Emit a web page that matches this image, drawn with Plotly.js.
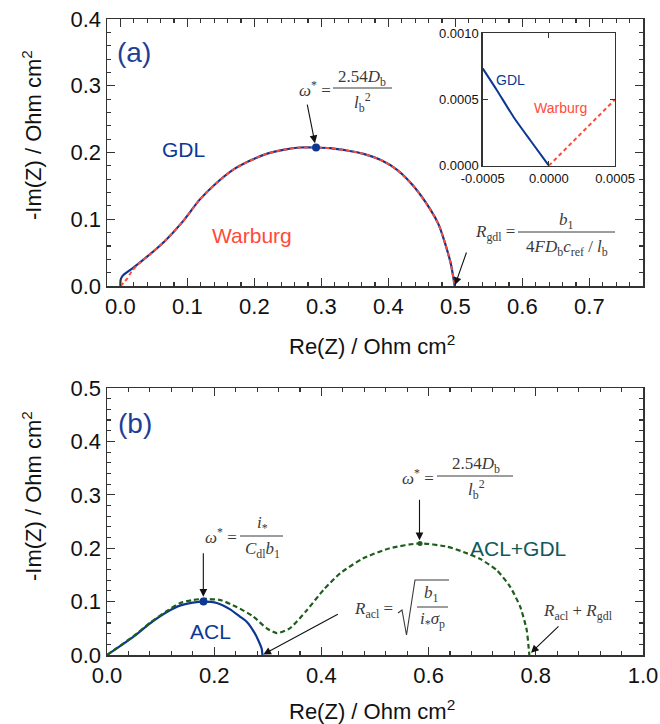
<!DOCTYPE html>
<html>
<head>
<meta charset="utf-8">
<script src="https://cdn.plot.ly/plotly-3.0.1.min.js"></script>
<style>html,body{margin:0;padding:0;background:#fff;}#plot{width:660px;height:724px;}</style>
</head>
<body>
<div id="plot"></div>
<script>
// ---------- data: panel (a) ----------
const gdlA_x = [0, 0.0003, 0.0035, 0.011, 0.018, 0.043, 0.068, 0.093, 0.118, 0.143, 0.168, 0.193, 0.218, 0.243, 0.268, 0.292, 0.313, 0.338, 0.363, 0.388, 0.413, 0.438, 0.463, 0.475, 0.483, 0.493, 0.499];
const gdlA_y = [0, 0.009, 0.0155, 0.0215, 0.0265, 0.0465, 0.069, 0.0965, 0.129, 0.154, 0.174, 0.1875, 0.198, 0.204, 0.2075, 0.2075, 0.2065, 0.203, 0.198, 0.189, 0.174, 0.149, 0.114, 0.092, 0.069, 0.034, 0];
const warA_x = [0, 0.005, 0.01, 0.018, 0.03, 0.043, 0.068, 0.093, 0.118, 0.143, 0.168, 0.193, 0.218, 0.243, 0.268, 0.292, 0.313, 0.338, 0.363, 0.388, 0.413, 0.438, 0.463, 0.475, 0.483, 0.493, 0.499];
const warA_y = [0, 0.005, 0.011, 0.0235, 0.036, 0.0465, 0.069, 0.0965, 0.129, 0.154, 0.174, 0.1875, 0.198, 0.204, 0.2075, 0.2075, 0.2065, 0.203, 0.198, 0.189, 0.174, 0.149, 0.114, 0.092, 0.069, 0.034, 0];
const peakA_x = [0.292];
const peakA_y = [0.2075];
// inset
const gdlIn_x = [-0.0005, -0.000394, -0.000268, -0.000142, 0];
const gdlIn_y = [0.000735, 0.000572, 0.00037, 0.000194, 0];
const warIn_x = [0, 0.0005];
const warIn_y = [0, 0.0005];
const inX_ticks = [-0.0005, 0, 0.0005];
const inX_text = ["-0.0005", "0.0000", "0.0005"];
const inY_ticks = [0, 0.0005, 0.001];
const inY_text = ["0.0000", "0.0005", "0.0010"];
// ---------- data: panel (b) ----------
const acl_x = [0, 0.049, 0.080, 0.111, 0.136, 0.160, 0.180, 0.205, 0.229, 0.248, 0.261, 0.275, 0.282, 0.2885, 0.290];
const acl_y = [0, 0.034, 0.059, 0.080, 0.0925, 0.098, 0.100, 0.0975, 0.086, 0.072, 0.062, 0.042, 0.028, 0.012, 0];
const both_x = [0, 0.049, 0.080, 0.111, 0.136, 0.160, 0.180, 0.211, 0.242, 0.273, 0.298, 0.317, 0.341, 0.373, 0.404, 0.435, 0.478, 0.528, 0.584, 0.634, 0.665, 0.696, 0.727, 0.752, 0.771, 0.783, 0.787, 0.788];
const both_y = [0, 0.035, 0.060, 0.082, 0.097, 0.103, 0.105, 0.103, 0.090, 0.072, 0.050, 0.041, 0.050, 0.084, 0.122, 0.153, 0.181, 0.200, 0.209, 0.203, 0.193, 0.180, 0.159, 0.128, 0.090, 0.047, 0.010, 0];
const peakAcl_x = [0.180];
const peakAcl_y = [0.100];
const peakBoth_x = [0.584];
const peakBoth_y = [0.209];

// ---------- styling ----------
const W = 660, H = 724;
const px = v => v / W;
const py = v => 1 - v / H;
const BLUE = '#0c3894', RED = '#ff4a3a', GREEN = '#1d5e1d', TEAL = '#0e5a5a';
const SANS = 'Arial';
const SERIF = 'Liberation Serif, Times New Roman, serif';
const MATH = {family: SERIF, size: 17, color: '#3a3a3a'};
const TICK = '#333333';

function mainAxis(dom, range, dtick, minor, anchor) {
  return {domain: dom, range: range, anchor: anchor, tickmode: 'linear', dtick: dtick, tick0: 0,
    ticks: 'inside', ticklen: 8, tickwidth: 1.3, tickcolor: TICK,
    minor: {dtick: minor, ticks: 'inside', ticklen: 4, tickwidth: 1.1, tickcolor: TICK},
    showline: true, mirror: 'ticks', linecolor: TICK, linewidth: 1.5,
    showgrid: false, zeroline: false, tickformat: '.1f',
    tickfont: {family: SANS, size: 22, color: '#111'}};
}
// tick-only overlay axes (same scale as the base axis, no labels)
function tickAxis(base, range, dtick, minor, anchor) {
  return {overlaying: base, anchor: anchor, range: range, tickmode: 'linear', dtick: dtick, tick0: 0,
    ticks: 'inside', ticklen: 8, tickwidth: 1.3, tickcolor: TICK,
    minor: {dtick: minor, ticks: 'inside', ticklen: 4, tickwidth: 1.1, tickcolor: TICK},
    showticklabels: false, showline: true, mirror: 'ticks', linecolor: TICK, linewidth: 1.5,
    showgrid: false, zeroline: false};
}

const SP = {shape: 'spline', smoothing: 0.6};
const traces = [
  {x: gdlA_x, y: gdlA_y, xaxis: 'x', yaxis: 'y', mode: 'lines', line: Object.assign({color: BLUE, width: 2.2}, SP)},
  {x: warA_x, y: warA_y, xaxis: 'x', yaxis: 'y', mode: 'lines', line: Object.assign({color: RED, width: 2, dash: '4px,3px'}, SP)},
  {x: peakA_x, y: peakA_y, xaxis: 'x', yaxis: 'y', mode: 'markers', marker: {color: BLUE, size: 8}},
  {x: acl_x, y: acl_y, xaxis: 'x2', yaxis: 'y2', mode: 'lines', line: Object.assign({color: BLUE, width: 2.2}, SP)},
  {x: both_x, y: both_y, xaxis: 'x2', yaxis: 'y2', mode: 'lines', line: Object.assign({color: GREEN, width: 2.2, dash: '5px,3px'}, SP)},
  {x: peakAcl_x, y: peakAcl_y, xaxis: 'x2', yaxis: 'y2', mode: 'markers', marker: {color: BLUE, size: 8}},
  {x: peakBoth_x, y: peakBoth_y, xaxis: 'x2', yaxis: 'y2', mode: 'markers', marker: {color: GREEN, size: 5}},
  {x: gdlIn_x, y: gdlIn_y, xaxis: 'x3', yaxis: 'y3', mode: 'lines', line: Object.assign({color: BLUE, width: 2}, SP)},
  {x: warIn_x, y: warIn_y, xaxis: 'x3', yaxis: 'y3', mode: 'lines', line: {color: RED, width: 2, dash: '4px,3px'}},
  // empty traces that only make the tick-overlay axes exist
  {x: [], y: [], xaxis: 'x4', yaxis: 'y', mode: 'lines', hoverinfo: 'skip'},
  {x: [], y: [], xaxis: 'x', yaxis: 'y4', mode: 'lines', hoverinfo: 'skip'},
  {x: [], y: [], xaxis: 'x5', yaxis: 'y2', mode: 'lines', hoverinfo: 'skip'},
  {x: [], y: [], xaxis: 'x2', yaxis: 'y5', mode: 'lines', hoverinfo: 'skip'}
];

function txt(text, x, y, font, xanchor) {
  return {text: text, x: px(x), y: py(y), xref: 'paper', yref: 'paper', showarrow: false,
          xanchor: xanchor || 'center', yanchor: 'middle', font: font};
}
function arrow(xr, yr, x, y, ax, ay) {
  return {text: '', x: x, y: y, xref: xr, yref: yr, ax: ax, ay: ay, showarrow: true,
          arrowhead: 2, arrowsize: 1.4, arrowwidth: 1.1, arrowcolor: '#111', standoff: 0};
}
function bar(x0, x1, y) {
  return {type: 'line', xref: 'paper', yref: 'paper', x0: px(x0), x1: px(x1), y0: py(y), y1: py(y),
          line: {color: '#3a3a3a', width: 1}};
}

const annotations = [
  Object.assign(txt('-Im(Z) / Ohm cm<sup>2</sup>', 32, 135, {family: SANS, size: 22, color: '#111'}), {textangle: -90}),
  Object.assign(txt('-Im(Z) / Ohm cm<sup>2</sup>', 32, 496, {family: SANS, size: 22, color: '#111'}), {textangle: -90}),
  txt('Re(Z) / Ohm cm<sup>2</sup>', 372, 345, {family: SANS, size: 22, color: '#111'}),
  txt('Re(Z) / Ohm cm<sup>2</sup>', 372, 710, {family: SANS, size: 22, color: '#111'}),
  txt('(a)', 134, 52, {family: SANS, size: 28, color: '#1f3f95'}),
  txt('(b)', 135, 423, {family: SANS, size: 28, color: '#1f3f95'}),
  txt('GDL', 183, 149, {family: SANS, size: 21, color: BLUE}),
  txt('Warburg', 252, 236, {family: SANS, size: 21, color: RED}),
  txt('GDL', 510, 80, {family: SANS, size: 14, color: BLUE}),
  txt('Warburg', 560, 108, {family: SANS, size: 14, color: RED}),
  txt('ACL', 210, 631, {family: SANS, size: 21, color: BLUE}),
  txt('ACL+GDL', 518, 548, {family: SANS, size: 21, color: TEAL}),
  txt('<i>ω</i><sup>*</sup> =', 333, 89, MATH, 'right'),
  txt('2.54<i>D</i><sub>b</sub>', 362, 78, MATH),
  txt('<i>l</i><sub>b</sub><sup>2</sup>', 362, 102, MATH),
  txt('<i>R</i><sub>gdl</sub> =', 517, 233, MATH, 'right'),
  txt('<i>b</i><sub>1</sub>', 566, 221, MATH),
  txt('4<i>FD</i><sub>b</sub><i>c</i><sub>ref</sub> / <i>l</i><sub>b</sub>', 567, 248, MATH),
  txt('<i>ω</i><sup>*</sup> =', 239, 536, MATH, 'right'),
  txt('<i>i</i><sub>*</sub>', 262, 524, MATH),
  txt('<i>C</i><sub>dl</sub><i>b</i><sub>1</sub>', 262, 550, MATH),
  txt('<i>ω</i><sup>*</sup> =', 436, 477, MATH, 'right'),
  txt('2.54<i>D</i><sub>b</sub>', 476, 465, MATH),
  txt('<i>l</i><sub>b</sub><sup>2</sup>', 476, 489, MATH),
  txt('<i>R</i><sub>acl</sub> =', 395, 610, MATH, 'right'),
  txt('<i>b</i><sub>1</sub>', 431, 594, MATH),
  txt('<i>i</i><sub>*</sub><i>σ</i><sub>p</sub>', 432, 620, MATH),
  txt('<i>R</i><sub>acl</sub> + <i>R</i><sub>gdl</sub>', 578, 612, MATH),
  arrow('x', 'y', 0.2904, 0.214, -8, -40),
  arrow('x', 'y', 0.4994, 0.0015, 12, -34),
  arrow('x2', 'y2', 0.1797, 0.109, 0, -45),
  arrow('x2', 'y2', 0.583, 0.215, 0, -42),
  arrow('x2', 'y2', 0.2916, 0.001, 76, -41),
  arrow('x2', 'y2', 0.791, 0.004, 29, -28)
];

const shapes = [
  bar(333, 392, 88),
  bar(518, 615, 232),
  bar(240, 283, 536),
  bar(437, 513, 476),
  bar(417, 448, 607),
  {type: 'path', xref: 'paper', yref: 'paper',
   path: 'M ' + px(398) + ',' + py(613) + ' L ' + px(402) + ',' + py(610) + ' L ' + px(406.5) + ',' + py(635) +
         ' L ' + px(415) + ',' + py(580) + ' L ' + px(449) + ',' + py(580),
   line: {color: '#3a3a3a', width: 1.1}}
];

const layout = {
  width: W, height: H, margin: {l: 0, r: 0, t: 0, b: 0},
  paper_bgcolor: '#fff', plot_bgcolor: '#fff', showlegend: false,
  xaxis: mainAxis([px(107), px(643)], [-0.02, 0.78], 0.1, 0.02, 'y'),
  yaxis: mainAxis([py(286), py(19)], [0, 0.4], 0.1, 0.02, 'x'),
  xaxis2: mainAxis([px(107), px(643)], [0, 1.0], 0.2, 0.04, 'y2'),
  yaxis2: mainAxis([py(655), py(388)], [0, 0.5], 0.1, 0.02, 'x2'),
  xaxis4: tickAxis('x', [-0.02, 0.78], 0.1, 0.02, 'y'),
  yaxis4: tickAxis('y', [0, 0.4], 0.1, 0.02, 'x'),
  xaxis5: tickAxis('x2', [0, 1.0], 0.2, 0.04, 'y2'),
  yaxis5: tickAxis('y2', [0, 0.5], 0.1, 0.02, 'x2'),
  xaxis3: {domain: [px(482.7), px(615)], range: [-0.0005, 0.0005], anchor: 'y3',
           tickmode: 'array', tickvals: inX_ticks, ticktext: inX_text, ticks: 'inside', ticklen: 5, tickwidth: 1.2, tickcolor: TICK,
           showline: true, mirror: 'ticks', linecolor: TICK, linewidth: 1.3,
           showgrid: false, zeroline: false, tickfont: {family: SANS, size: 13, color: '#111'}},
  yaxis3: {domain: [py(165.7), py(33.3)], range: [0, 0.001], anchor: 'x3',
           tickmode: 'array', tickvals: inY_ticks, ticktext: inY_text, ticks: 'inside', ticklen: 5, tickwidth: 1.2, tickcolor: TICK,
           showline: true, mirror: 'ticks', linecolor: TICK, linewidth: 1.3,
           showgrid: false, zeroline: false, tickfont: {family: SANS, size: 13, color: '#111'}},
  annotations: annotations,
  shapes: shapes
};

Plotly.newPlot('plot', traces, layout, {staticPlot: true, displayModeBar: false});
</script>
</body>
</html>
